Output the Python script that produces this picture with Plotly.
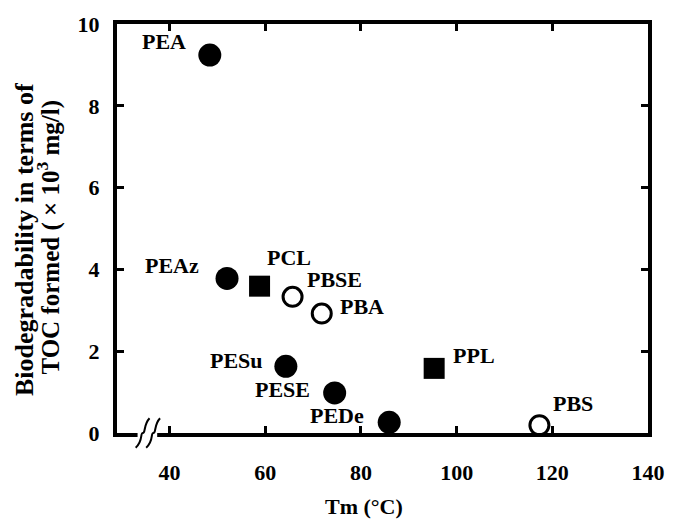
import plotly.graph_objects as go

# ---- data ----
names = ["PEA", "PEAz", "PCL", "PBSE", "PBA", "PESu", "PESE", "PEDe", "PPL", "PBS"]
tm = [48.4, 52.0, 58.8, 65.7, 71.8, 64.3, 74.5, 85.9, 95.3, 117.3]
toc = [9.24, 3.78, 3.59, 3.33, 2.92, 1.63, 0.98, 0.26, 1.58, 0.19]
kind = ["filled", "filled", "square", "open", "open", "filled", "filled", "filled", "square", "open"]

x_ticks = [40, 60, 80, 100, 120, 140]
y_ticks = [0, 2, 4, 6, 8, 10]

# label offsets in pixels (style only)
label_dx = [-46, -55, 29, 42, 40, -49, -52, -52, 40, 34]
label_dy = [14, 13, 29, 17, 7, 6, 3, 7, 13, 22]

FONT = "Liberation Serif"

fig = go.Figure()

styles = {
    "filled": dict(symbol="circle", size=23, color="black", line=dict(width=0)),
    "square": dict(symbol="square", size=21, color="black", line=dict(width=0)),
    "open": dict(symbol="circle-open", size=19, color="black", line=dict(width=3)),
}
for k in ["filled", "square", "open"]:
    xs = [x for x, kk in zip(tm, kind) if kk == k]
    ys = [y for y, kk in zip(toc, kind) if kk == k]
    fig.add_trace(go.Scatter(x=xs, y=ys, mode="markers", marker=styles[k],
                             showlegend=False, hoverinfo="skip"))

for n, x, y, dx, dy in zip(names, tm, toc, label_dx, label_dy):
    fig.add_annotation(x=x, y=y, xref="x", yref="y", text=n, showarrow=False,
                       xshift=dx, yshift=dy,
                       font=dict(family=FONT, size=22, color="black", weight="bold"))

axis_common = dict(
    showline=True, linewidth=4, linecolor="black", mirror="ticks",
    ticks="inside", ticklen=7, tickwidth=3, tickcolor="black",
    showgrid=False, zeroline=False, ticklabeloverflow="allow",
    tickfont=dict(family=FONT, size=22, color="black", weight="bold"),
)

fig.update_xaxes(range=[29, 140], tickvals=x_ticks, ticktext=[str(v) for v in x_ticks],
                 ticklabelstandoff=17, **axis_common)
fig.update_yaxes(range=[0, 10], tickvals=y_ticks, ticktext=[str(v) for v in y_ticks],
                 ticklabelstandoff=9, **axis_common)

# x-axis title
fig.add_annotation(x=80.6, y=-0.18, xref="x", yref="paper", text="Tm (°C)", showarrow=False,
                   yanchor="middle", font=dict(family=FONT, size=22, color="black", weight="bold"))
# y-axis title (two lines)
fig.add_annotation(x=-0.173, y=0.472, xref="paper", yref="paper",
                   text="Biodegradability in terms of", textangle=-90, showarrow=False,
                   xanchor="center", yanchor="middle",
                   font=dict(family=FONT, size=26, color="black", weight="bold"))
fig.add_annotation(x=-0.129, y=0.479, xref="paper", yref="paper",
                   text="TOC formed ( × 10<sup>3</sup> mg/l)", textangle=-90, showarrow=False,
                   xanchor="center", yanchor="middle",
                   font=dict(family=FONT, size=25, color="black", weight="bold"))

# axis break marks
fig.add_shape(type="rect", xref="x", yref="paper", x0=33.3, x1=37.4, y0=-0.015, y1=0.015,
              fillcolor="white", line=dict(width=0), layer="above")
for x0 in [32.9, 35.1]:
    path = (f"M {x0},-0.036 C {x0+1.6},-0.02 {x0+0.9},0.0 {x0+1.5},0.0 "
            f"S {x0+1.6},0.02 {x0+2.9},0.036")
    fig.add_shape(type="path", xref="x", yref="paper", path=path,
                  line=dict(color="black", width=2), layer="above")

fig.update_layout(
    width=677, height=521,
    margin=dict(l=117, r=16, t=14, b=88),
    paper_bgcolor="white", plot_bgcolor="white",
)

fig.write_html("out.html")
